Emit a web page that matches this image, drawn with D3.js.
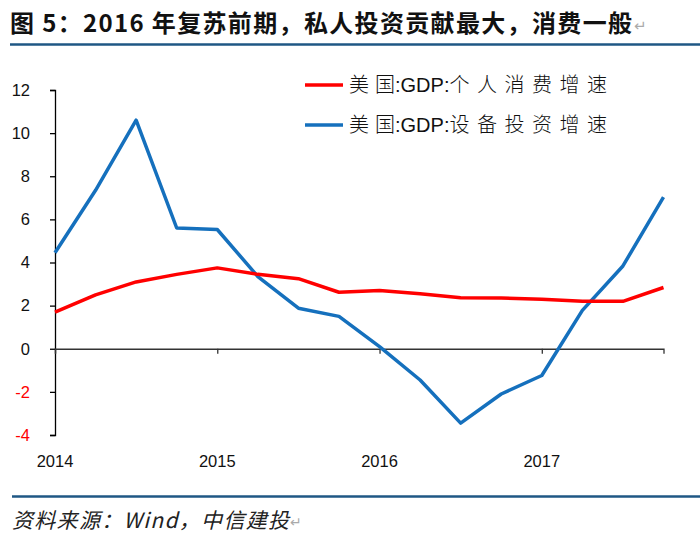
<!DOCTYPE html>
<html><head><meta charset="utf-8">
<script src="https://cdn.jsdelivr.net/npm/d3@7"></script>
<style>
html,body{margin:0;padding:0;background:#fff;}
svg{display:block;}
</style></head>
<body>
<svg id="c" width="700" height="539"></svg>
<script>
// ---- data ----
const quarters = ["2014Q1","2014Q2","2014Q3","2014Q4","2015Q1","2015Q2","2015Q3","2015Q4",
                  "2016Q1","2016Q2","2016Q3","2016Q4","2017Q1","2017Q2","2017Q3","2017Q4"];
const consumption = [1.7, 2.5, 3.1, 3.45, 3.75, 3.45, 3.25, 2.62, 2.7, 2.55, 2.37, 2.35, 2.3, 2.2, 2.2, 2.84];
const equipment   = [4.45, 7.35, 10.6, 5.6, 5.53, 3.35, 1.88, 1.5, 0.1, -1.45, -3.45, -2.1, -1.24, 1.78, 3.84, 7.03];
const yearLabels = ["2014","2015","2016","2017"];
const yTicks = [-4,-2,0,2,4,6,8,10,12];
const seriesParts = [["美", "国", ":GDP:", "个人消费增速"], ["美", "国", ":GDP:", "设备投资增速"]];
const titleText = "图 5：2016 年复苏前期，私人投资贡献最大，消费一般";
const sourceText = "资料来源：Wind，中信建投";

const svg = d3.select("#c");
const L = 55, R = 663.5, T = 90, B = 435;

const x = d3.scalePoint().domain(quarters).range([L, R]);
const y = d3.scaleLinear().domain([-4, 12]).range([B, T]);

// title
svg.append("text").attr("x", 10).attr("y", 32)
  .attr("font-family", "'Noto Sans CJK SC', sans-serif").attr("font-weight", "bold")
  .attr("font-size", 24).attr("fill", "#111")
  .attr("textLength", 622).attr("lengthAdjust", "spacing")
  .text(titleText);
svg.append("text").attr("x", 634).attr("y", 31).attr("font-size", 15)
  .attr("font-family", "'DejaVu Sans', sans-serif").attr("fill", "#aaa").text("↵");
svg.append("line").attr("x1", 10).attr("x2", 700).attr("y1", 44.5).attr("y2", 44.5)
  .attr("stroke", "#1f5784").attr("stroke-width", 2.5);

// y axis
const yAxis = d3.axisLeft(y).tickValues(yTicks).tickSize(5).tickPadding(20).tickFormat(d => String(d));
const gy = svg.append("g").attr("transform", `translate(${L},0)`).call(yAxis);
gy.select(".domain").attr("stroke", "#000").attr("stroke-width", 1.3);
gy.selectAll(".tick line").attr("stroke", "#000").attr("stroke-width", 1.3);
gy.selectAll(".tick text").attr("font-family", "'Liberation Sans', Arial, sans-serif")
  .attr("font-size", 16.5).attr("fill", d => d < 0 ? "#ff0000" : "#111");

// x axis on zero line
const yearTicks = quarters.filter((q, i) => i % 4 === 0);
const xAxis = d3.axisBottom(x).tickValues(yearTicks).tickSize(5).tickFormat("");
const gx = svg.append("g").attr("transform", `translate(0,${y(0)})`).call(xAxis);
gx.select(".domain").attr("stroke", "#333").attr("stroke-width", 1.3);
gx.selectAll(".tick line").attr("stroke", "#333").attr("stroke-width", 1.3);

// year labels
svg.append("g").selectAll("text").data(yearTicks).join("text")
  .attr("x", d => x(d)).attr("y", 467).attr("text-anchor", "middle")
  .attr("font-family", "'Liberation Sans', Arial, sans-serif").attr("font-size", 16.5)
  .attr("fill", "#111")
  .text((d, i) => yearLabels[i]);

// lines
const line = d3.line().x((d, i) => x(quarters[i])).y(d => y(d));
svg.append("path").datum(equipment).attr("d", line).attr("fill", "none")
  .attr("stroke", "#1570bd").attr("stroke-width", 3.5).attr("stroke-linejoin", "round");
svg.append("path").datum(consumption).attr("d", line).attr("fill", "none")
  .attr("stroke", "#ff0000").attr("stroke-width", 3.5).attr("stroke-linejoin", "round");

// legend
const legColors = ["#ff0000", "#1570bd"];
const leg = svg.append("g").selectAll("g").data(seriesParts).join("g")
  .attr("transform", (d, i) => `translate(0,${85 + i * 40})`);
leg.append("line").attr("x1", 305).attr("x2", 343).attr("y1", 0).attr("y2", 0)
  .attr("stroke", (d, i) => legColors[i]).attr("stroke-width", 3.5);
const lt = leg.append("text").attr("x", 349).attr("y", 7)
  .attr("font-size", 20).attr("fill", "#111");
lt.append("tspan").attr("font-family", "'Noto Sans CJK SC', sans-serif").attr("font-weight", 300)
  .attr("letter-spacing", 6).text(d => d[0]);
lt.append("tspan").attr("font-family", "'Noto Sans CJK SC', sans-serif").attr("font-weight", 300)
  .text(d => d[1]);
lt.append("tspan").attr("font-family", "'Liberation Sans', Arial, sans-serif")
  .text(d => d[2]);
lt.append("tspan").attr("font-family", "'Noto Sans CJK SC', sans-serif").attr("font-weight", 300)
  .attr("letter-spacing", 7.5).text(d => d[3]);

// footer
svg.append("line").attr("x1", 12).attr("x2", 700).attr("y1", 496.5).attr("y2", 496.5)
  .attr("stroke", "#1f5784").attr("stroke-width", 2.5);
svg.append("text").attr("x", 12).attr("y", 528)
  .attr("font-family", "'Noto Sans CJK SC', sans-serif").attr("font-size", 21)
  .attr("font-style", "italic").attr("fill", "#222")
  .attr("textLength", 277).attr("lengthAdjust", "spacing")
  .text(sourceText);
svg.append("text").attr("x", 290).attr("y", 527).attr("font-size", 14)
  .attr("font-family", "'DejaVu Sans', sans-serif").attr("fill", "#aaa").text("↵");
</script>
</body></html>
